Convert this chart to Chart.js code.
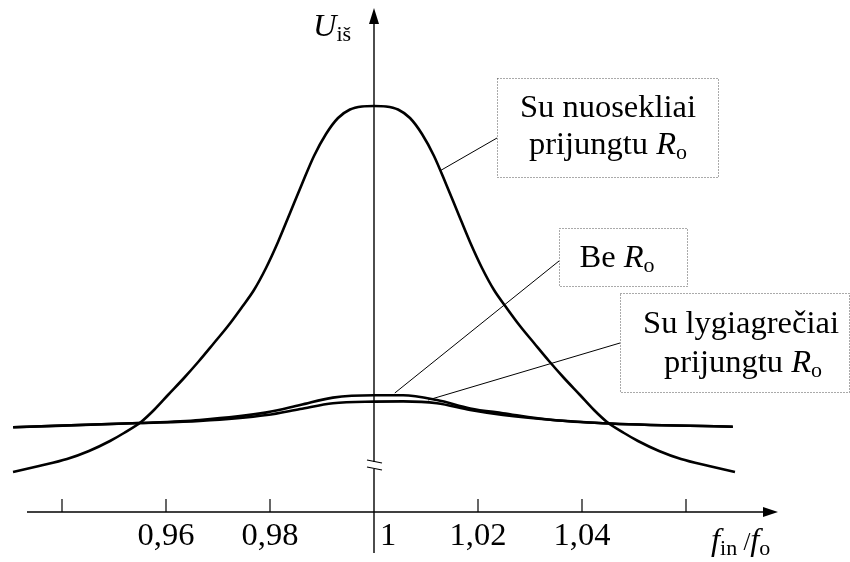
<!DOCTYPE html>
<html>
<head>
<meta charset="utf-8">
<script src="https://cdn.jsdelivr.net/npm/chart.js@4"></script>
<style>
  body { margin: 0; background: #fff; }
  #chart { display: block; }
</style>
</head>
<body>
<canvas id="chart" width="850" height="562"></canvas>
<script>
// curve with series resistor
const seriesX = [0.93058, 0.93558, 0.94096, 0.94519, 0.94923, 0.95192, 0.95519, 0.95769, 0.96038, 0.96346,
                 0.96635, 0.96923, 0.97192, 0.97462, 0.97692, 0.97923, 0.98154, 0.98385, 0.98615, 0.98846,
                 0.99077, 0.99308, 0.99538, 0.99769, 1.0,
                 1.00231, 1.00462, 1.00692, 1.00923, 1.01154, 1.01385, 1.01615, 1.01846, 1.02077, 1.02308,
                 1.02538, 1.02808, 1.03077, 1.03365, 1.03654, 1.03962, 1.04231, 1.04481, 1.04808, 1.05077,
                 1.05481, 1.05904, 1.06442, 1.06942];
const seriesY = [0.10, 0.115, 0.1325, 0.1525, 0.1775, 0.1975, 0.225, 0.255, 0.2925, 0.335,
                 0.3775, 0.4225, 0.465, 0.5125, 0.555, 0.61, 0.675, 0.7475, 0.82, 0.89,
                 0.945, 0.985, 1.00625, 1.01375, 1.015,
                 1.01375, 1.00625, 0.985, 0.945, 0.89, 0.82, 0.7475, 0.675, 0.61, 0.555,
                 0.5125, 0.465, 0.4225, 0.3775, 0.335, 0.2925, 0.255, 0.225, 0.1975, 0.1775,
                 0.1525, 0.1325, 0.115, 0.10];

// flat curves: without R and with parallel R
const flatX = [0.9306, 0.955, 0.9665, 0.9794, 0.9858, 0.9921, 1.0, 1.0056, 1.0121, 1.0185, 1.0248, 1.0344, 1.044, 1.069];
const noRY = [0.212, 0.2225, 0.23, 0.249, 0.2675, 0.286, 0.292, 0.292, 0.28, 0.259, 0.247, 0.23, 0.222, 0.213];
const parallelY = [0.212, 0.2225, 0.2275, 0.2425, 0.2575, 0.272, 0.276, 0.2765, 0.272, 0.255, 0.2425, 0.23, 0.222, 0.213];

const tickValues = [0.94, 0.96, 0.98, 1, 1.02, 1.04, 1.06];
const tickLabels = ['', '0,96', '0,98', '1', '1,02', '1,04', ''];

const FONT = '"Liberation Serif", "Times New Roman", serif';
const BIG = 32.5, SUB = 22;

function toPoints(xs, ys) {
    return xs.map((x, i) => ({ x: x, y: ys[i] }));
}

// draws a line of mixed text: [text, size, italic, dy]
function drawRich(ctx, parts, cx, y, align) {
    let total = 0;
    parts.forEach(p => {
        ctx.font = (p[2] ? 'italic ' : '') + p[1] + 'px ' + FONT;
        total += ctx.measureText(p[0]).width;
    });
    let x = align === 'center' ? cx - total / 2 : cx;
    ctx.textAlign = 'left';
    ctx.textBaseline = 'alphabetic';
    parts.forEach(p => {
        ctx.font = (p[2] ? 'italic ' : '') + p[1] + 'px ' + FONT;
        ctx.fillText(p[0], x, y + (p[3] || 0));
        x += ctx.measureText(p[0]).width;
    });
}

function dottedBox(ctx, l, t, r, b) {
    ctx.save();
    ctx.strokeStyle = '#555';
    ctx.lineWidth = 1;
    ctx.setLineDash([1, 2]);
    ctx.strokeRect(l + 0.5, t + 0.5, r - l, b - t);
    ctx.restore();
}

function line(ctx, x1, y1, x2, y2, w) {
    ctx.lineWidth = w;
    ctx.beginPath();
    ctx.moveTo(x1, y1);
    ctx.lineTo(x2, y2);
    ctx.stroke();
}

const axesPlugin = {
    id: 'axesPlugin',
    afterDraw(chart) {
        const ctx = chart.ctx;
        const xs = chart.scales.x, ys = chart.scales.y;
        const x0 = xs.getPixelForValue(1);
        const y0 = ys.getPixelForValue(0);
        const yTop = ys.getPixelForValue(1.26);
        ctx.save();
        ctx.strokeStyle = '#000';
        ctx.fillStyle = '#000';

        // x axis with arrow
        const xEnd = 778;
        line(ctx, 27, y0, xEnd - 12, y0, 1.4);
        ctx.beginPath();
        ctx.moveTo(xEnd, y0);
        ctx.lineTo(xEnd - 15, y0 - 5);
        ctx.lineTo(xEnd - 15, y0 + 5);
        ctx.closePath();
        ctx.fill();

        // y axis with arrow and break
        const brk1 = 462, brk2 = 469;
        line(ctx, x0, yTop + 12, x0, brk1, 1.4);
        line(ctx, x0, brk2, x0, 553, 1.4);
        ctx.beginPath();
        ctx.moveTo(x0, yTop);
        ctx.lineTo(x0 - 5, yTop + 16);
        ctx.lineTo(x0 + 5, yTop + 16);
        ctx.closePath();
        ctx.fill();
        line(ctx, x0 - 7, brk1 - 2, x0 + 8, brk1 + 1, 1.2);
        line(ctx, x0 - 7, brk2 - 2, x0 + 8, brk2 + 1, 1.2);

        // ticks and labels
        ctx.font = BIG + 'px ' + FONT;
        tickValues.forEach((v, i) => {
            const px = xs.getPixelForValue(v);
            if (v !== 1) line(ctx, px, y0 - 13, px, y0, 1.2);
            if (!tickLabels[i]) return;
            ctx.textBaseline = 'alphabetic';
            if (v === 1) {
                ctx.textAlign = 'left';
                ctx.fillText(tickLabels[i], px + 6, 545);
            } else {
                ctx.textAlign = 'center';
                ctx.fillText(tickLabels[i], px, 545);
            }
        });

        // axis titles
        drawRich(ctx, [['U', BIG, true], ['iš', SUB, false, 5]], 313, 36, 'left');
        drawRich(ctx, [['f', BIG, true], ['in', SUB, false, 5], [' /', 25, false], ['f', BIG, true], ['o', SUB, false, 5]], 711, 550, 'left');

        // annotation leaders, anchored on the curves
        ctx.strokeStyle = '#000';
        const p1 = [xs.getPixelForValue(1.0127), ys.getPixelForValue(0.853)];
        line(ctx, p1[0], p1[1], 497, 138, 1);
        const p2 = [xs.getPixelForValue(1.0040), ys.getPixelForValue(0.2975)];
        line(ctx, p2[0], p2[1], 559, 261, 1);
        const p3 = [xs.getPixelForValue(1.0104), ys.getPixelForValue(0.28)];
        line(ctx, p3[0], p3[1], 620, 343, 1);

        dottedBox(ctx, 497, 78, 718, 177);
        dottedBox(ctx, 559, 228, 687, 286);
        dottedBox(ctx, 620, 293, 849, 392);

        ctx.fillStyle = '#000';
        drawRich(ctx, [['Su nuosekliai', BIG, false]], 608, 117, 'center');
        drawRich(ctx, [['prijungtu ', BIG, false], ['R', BIG, true], ['o', SUB, false, 5]], 608, 154, 'center');
        drawRich(ctx, [['Be ', BIG, false], ['R', BIG, true], ['o', SUB, false, 5]], 617, 267, 'center');
        drawRich(ctx, [['Su lygiagrečiai', BIG, false]], 741, 333, 'center');
        drawRich(ctx, [['prijungtu ', BIG, false], ['R', BIG, true], ['o', SUB, false, 5]], 743, 372, 'center');
        ctx.restore();
    }
};

const ctx = document.getElementById('chart').getContext('2d');
new Chart(ctx, {
    type: 'line',
    data: {
        datasets: [
            { label: 'Su nuosekliai prijungtu Ro', data: toPoints(seriesX, seriesY) },
            { label: 'Be Ro', data: toPoints(flatX, noRY) },
            { label: 'Su lygiagrečiai prijungtu Ro', data: toPoints(flatX, parallelY) }
        ]
    },
    options: {
        responsive: false,
        animation: false,
        layout: { padding: { left: 10, right: 8, top: 8, bottom: 50 } },
        elements: {
            line: { borderColor: '#000', borderWidth: 2.6, cubicInterpolationMode: 'monotone', fill: false },
            point: { radius: 0 }
        },
        scales: {
            x: { type: 'linear', min: 0.93, max: 1.09, display: false },
            y: { min: 0, max: 1.26, display: false }
        },
        plugins: {
            legend: { display: false },
            tooltip: { enabled: false }
        }
    },
    plugins: [axesPlugin]
});
</script>
</body>
</html>
